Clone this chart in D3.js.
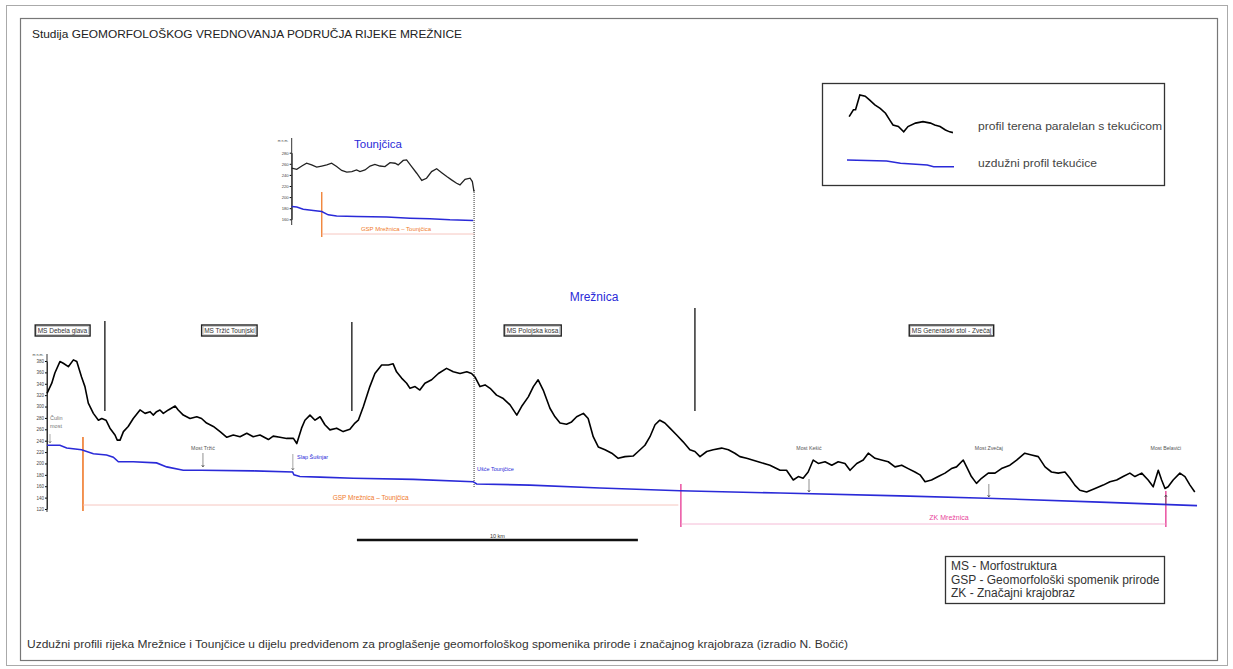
<!DOCTYPE html>
<html>
<head>
<meta charset="utf-8">
<script src="https://cdn.jsdelivr.net/npm/d3@7"></script>
<style>
  body { margin: 0; background: #fff; }
  text { font-family: "Liberation Sans", Arial, sans-serif; }
</style>
</head>
<body>
<svg id="chart" width="1233" height="669"></svg>
<script>
// Mreznica: distance along the river (km) and elevation (m n.m.)
const terrainKm = [0.00,0.17,0.28,0.46,0.58,0.76,0.94,1.06,1.23,1.35,1.47,1.65,1.83,1.95,2.10,2.24,2.42,2.50,2.60,2.72,
  2.89,3.07,3.31,3.49,3.67,3.78,3.90,4.02,4.14,4.32,4.56,4.67,4.85,5.09,5.33,5.50,5.68,5.92,6.16,6.40,
  6.63,6.87,7.11,7.34,7.58,7.88,8.05,8.29,8.53,8.77,8.89,9.06,9.18,9.36,9.54,9.72,9.89,10.07,10.31,10.54,
  10.78,10.96,11.08,11.26,11.49,11.67,11.91,12.15,12.32,12.44,12.62,12.80,12.92,13.10,13.27,13.45,13.69,13.93,14.22,14.46,
  14.70,14.94,15.11,15.23,15.41,15.59,15.77,16.00,16.24,16.48,16.72,16.89,17.13,17.31,17.48,17.66,17.90,18.08,18.26,18.49,
  18.67,18.85,19.09,19.26,19.44,19.62,19.86,20.10,20.33,20.57,20.86,21.04,21.28,21.46,21.64,21.81,21.99,22.17,22.41,22.64,
  22.88,23.06,23.24,23.48,23.71,24.01,24.25,24.48,24.66,24.90,25.37,25.73,26.09,26.32,26.56,26.74,26.91,27.09,27.27,27.45,
  27.69,27.93,28.16,28.40,28.58,28.82,29.05,29.23,29.47,29.70,29.94,30.18,30.42,30.65,30.89,31.07,31.25,31.48,31.72,31.96,
  32.19,32.37,32.61,32.73,32.90,33.08,33.26,33.50,33.74,33.97,34.27,34.51,34.80,35.04,35.28,35.52,35.75,35.99,36.23,36.41,
  36.58,36.76,37.00,37.30,37.59,37.83,38.07,38.30,38.54,38.72,38.96,39.19,39.37,39.55,39.67,39.79,39.90,40.08,40.32,40.50,
  40.68,40.85];
const terrainM = [323,341,359,379,376,370,382,379,352,335,306,288,276,279,276,262,250,241,241,256,
  265,279,294,288,291,285,291,294,288,294,301,294,285,279,282,279,271,265,256,246,
  250,247,253,247,250,242,248,246,244,244,235,262,276,285,276,282,268,259,262,256,
  260,271,276,300,335,358,373,373,375,361,350,341,332,335,329,341,347,358,367,361,
  358,361,358,352,335,338,332,320,314,303,285,300,317,335,347,329,297,282,271,269,
  273,282,288,279,247,229,224,218,209,212,213,221,232,247,268,276,271,262,250,238,
  224,221,212,221,224,227,224,218,212,209,202,197,188,188,171,177,174,185,206,200,
  203,197,203,200,188,200,206,218,209,206,203,194,197,191,185,180,168,171,177,183,
  191,194,206,194,177,165,174,183,183,191,197,206,218,215,212,194,185,183,185,174,
  162,153,150,156,162,168,171,177,183,177,183,171,159,188,171,156,159,171,183,177,
  162,150];
const riverKm = [0.00,0.46,0.70,1.23,1.65,2.12,2.36,2.54,3.07,3.90,4.26,4.85,5.50,7.34,8.74,8.79,9.00,9.72,10.90,13.04,
  15.17,15.29,17.19,19.68,22.53,26.09,30.36,33.44,37.47,40.93];
const riverM = [232,232,227,224,217,215,211,203,203,201,194,188,188,187,185,180,177,176,174,172,
  168,164,162,157,152,148,143,139,132,126];

// Tounjcica (inset), km upstream section to the mouth
const tounjTerrainKm = [0.00,0.18,0.36,0.53,0.71,0.89,1.07,1.25,1.42,1.60,1.78,1.96,2.14,2.31,2.43,2.61,2.79,2.96,3.14,3.32,
  3.50,3.68,3.79,3.97,4.09,4.27,4.45,4.63,4.80,4.98,5.16,5.34,5.52,5.69,5.87,5.99,6.17,6.35,6.43,6.49];
const tounjTerrainM = [252,250,256,261,258,254,256,258,261,255,248,245,246,249,246,249,256,259,256,255,
  262,261,258,266,267,255,243,230,234,246,251,244,237,231,225,222,232,234,228,210];
const tounjRiverKm = [0.00,0.18,0.41,0.77,1.07,1.30,1.60,2.31,3.38,4.21,4.92,5.63,6.46];
const tounjRiverM = [183,182,178,176,174,168,166,165,164,162,161,159,158];

const elevTicks = [120,140,160,180,200,220,240,260,280,300,320,340,360,380];
const insetTicks = [160,180,200,220,240,260,280];

const msNames = ['MS Debela glava','MS Tržić Tounjski','MS Polojska kosa','MS Generalski stol - Zvečaj'];
const msLabelKm = [0.55, 6.49, 17.28, 32.19];
const msBoundKm = [2.06, 10.85, 23.06];

const pointNames = ['Most Tržić','Most Kešić','Most Zvečaj','Most Belavići'];
const pointKm = [5.55, 27.12, 33.52, 39.82];

const gspKm = [1.28, 22.47];
const zkKm = [22.56, 39.82];
const confluenceKm = 15.2;
const tounjGspKm = 1.07;

// legend samples (relative 0..1)
const legendTerrainT = [0.02,0.06,0.08,0.12,0.17,0.21,0.26,0.31,0.36,0.40,0.43,0.48,0.53,0.57,0.64,0.71,0.78,0.82,0.87,0.92,0.96,0.99];
const legendTerrainV = [0.43,0.61,0.61,1.00,0.97,0.87,0.74,0.65,0.52,0.34,0.21,0.17,0.03,0.17,0.26,0.30,0.26,0.21,0.17,0.08,0.03,0.01];
const legendRiverT = [0,0.37,0.50,0.75,0.81,1];
const legendRiverV = [1,0.86,0.53,0.29,0.05,0.05];

const BLUE = '#2a2ad8', ORANGE = '#f07a2a', PINK = '#e8449a', GRAY = '#555';

const svg = d3.select('#chart');
svg.append('rect').attr('width', 1233).attr('height', 669).attr('fill', '#fff');

// frames
svg.append('rect').attr('x', 6.5).attr('y', 5.5).attr('width', 1221).attr('height', 660)
  .attr('fill', 'none').attr('stroke', '#aaa').attr('stroke-width', 1);
svg.append('rect').attr('x', 20.5).attr('y', 18.5).attr('width', 1197).attr('height', 642)
  .attr('fill', 'none').attr('stroke', '#777').attr('stroke-width', 1.2);

svg.append('text').attr('x', 32).attr('y', 38).attr('font-size', 11).attr('fill', '#222')
  .attr('textLength', 430).attr('lengthAdjust', 'spacingAndGlyphs')
  .text('Studija GEOMORFOLOŠKOG VREDNOVANJA PODRUČJA RIJEKE MREŽNICE');

svg.append('text').attr('x', 27).attr('y', 648).attr('font-size', 11).attr('fill', '#333')
  .attr('textLength', 821).attr('lengthAdjust', 'spacingAndGlyphs')
  .text('Uzdužni profili rijeka Mrežnice i Tounjčice u dijelu predviđenom za proglašenje geomorfološkog spomenika prirode i značajnog krajobraza (izradio N. Bočić)');

// ---- main profile ----
const x = d3.scaleLinear().domain([0, 41]).range([47, 1199]);
const y = d3.scaleLinear().domain([120, 380]).range([509, 361]);

const yAxis = svg.append('g').attr('transform', 'translate(47,0)')
  .call(d3.axisLeft(y).tickValues(elevTicks).tickSize(2).tickSizeOuter(0).tickPadding(1));
yAxis.selectAll('text').attr('font-size', 4.5).attr('fill', '#444');
yAxis.select('.domain').attr('stroke', '#333');
svg.append('line').attr('x1', 47).attr('x2', 47).attr('y1', 354).attr('y2', 512).attr('stroke', '#333');
svg.append('text').attr('x', 38).attr('y', 356).attr('font-size', 3.6).attr('fill', '#444')
  .attr('text-anchor', 'middle').text('m n.m.');

const terrain = terrainKm.map((k, i) => [k, terrainM[i]]);
const river = riverKm.map((k, i) => [k, riverM[i]]);
const line = d3.line().x(d => x(d[0])).y(d => y(d[1]));

// MS boundaries
const msTop = [321, 322, 308];
msBoundKm.forEach((k, i) => {
  svg.append('line').attr('x1', x(k)).attr('x2', x(k)).attr('y1', msTop[i]).attr('y2', 411)
    .attr('stroke', '#111').attr('stroke-width', 1.3);
});

// MS labels
msNames.forEach((n, i) => {
  const t = svg.append('text').attr('x', x(msLabelKm[i])).attr('y', 333).attr('font-size', 6.5)
    .attr('text-anchor', 'middle').attr('fill', '#333').text(n);
  const b = t.node().getBBox();
  svg.insert('rect', 'text').attr('x', b.x - 2.5).attr('y', 325).attr('width', b.width + 5).attr('height', 11)
    .attr('fill', '#fff').attr('stroke', '#222').attr('stroke-width', 1.4);
  svg.append('rect').attr('x', b.x - 1).attr('y', 326.5).attr('width', b.width + 2).attr('height', 8)
    .attr('fill', 'none').attr('stroke', '#999').attr('stroke-width', 0.5);
});

svg.append('text').attr('x', 594).attr('y', 301).attr('font-size', 12).attr('fill', BLUE)
  .attr('text-anchor', 'middle').text('Mrežnica');

// GSP main
svg.append('line').attr('x1', x(gspKm[0])).attr('x2', x(gspKm[0])).attr('y1', 437).attr('y2', 511)
  .attr('stroke', ORANGE).attr('stroke-width', 1.6);
svg.append('line').attr('x1', x(gspKm[0])).attr('x2', x(gspKm[1])).attr('y1', 505).attr('y2', 505)
  .attr('stroke', '#f4b8b0').attr('stroke-width', 0.8);
svg.append('text').attr('x', x((gspKm[0] + gspKm[1]) / 2) - 10).attr('y', 500).attr('font-size', 6.5)
  .attr('fill', ORANGE).attr('text-anchor', 'middle').text('GSP Mrežnica – Tounjčica');

// ZK
zkKm.forEach((k, i) => {
  svg.append('line').attr('x1', x(k)).attr('x2', x(k)).attr('y1', i ? 491 : 484).attr('y2', 527)
    .attr('stroke', PINK).attr('stroke-width', 1.4);
});
svg.append('line').attr('x1', x(zkKm[0])).attr('x2', x(zkKm[1])).attr('y1', 524).attr('y2', 524)
  .attr('stroke', '#f2a8cc').attr('stroke-width', 0.8);
svg.append('text').attr('x', 949).attr('y', 520).attr('font-size', 7).attr('fill', PINK)
  .attr('text-anchor', 'middle').text('ZK Mrežnica');

// confluence dotted line
svg.append('line').attr('x1', x(confluenceKm)).attr('x2', x(confluenceKm)).attr('y1', 190).attr('y2', 487)
  .attr('stroke', '#555').attr('stroke-width', 1.2).attr('stroke-dasharray', '1,1');

svg.append('path').attr('d', line(river)).attr('fill', 'none').attr('stroke', BLUE).attr('stroke-width', 1.6);
svg.append('path').attr('d', line(terrain)).attr('fill', 'none').attr('stroke', '#000')
  .attr('stroke-width', 1.6).attr('stroke-linejoin', 'round');

// point labels with arrows
function arrow(px, y1, y2, col) {
  svg.append('line').attr('x1', px).attr('x2', px).attr('y1', y1).attr('y2', y2)
    .attr('stroke', col).attr('stroke-width', 0.6);
  const d = y2 > y1 ? -2 : 2;
  svg.append('path').attr('d', `M${px - 1.3},${y2 + d}L${px},${y2}L${px + 1.3},${y2 + d}`)
    .attr('fill', 'none').attr('stroke', col).attr('stroke-width', 0.7);
}
const pointLabelY = [450, 450, 450, 450];
pointNames.forEach((n, i) => {
  const px = x(pointKm[i]);
  svg.append('text').attr('x', px).attr('y', pointLabelY[i]).attr('font-size', 5.2).attr('fill', GRAY)
    .attr('text-anchor', 'middle').text(n);
});
arrow(x(pointKm[0]), 453, 467, '#444');
arrow(x(pointKm[1]), 479, 492, '#444');
arrow(x(pointKm[2]), 484, 497, '#444');
arrow(x(pointKm[3]), 505, 495, '#444');

svg.append('text').attr('x', 50).attr('y', 420).attr('font-size', 5.5).attr('fill', '#777').text('Čulin');
svg.append('text').attr('x', 50).attr('y', 428).attr('font-size', 5.5).attr('fill', '#777').text('most');
arrow(50, 434, 443, '#777');

svg.append('text').attr('x', 297).attr('y', 459).attr('font-size', 5.5).attr('fill', BLUE).text('Slap Šušnjar');
arrow(x(8.75), 454, 470, '#666');
svg.append('text').attr('x', 477).attr('y', 471).attr('font-size', 5.5).attr('fill', BLUE).text('Ušće Tounjčice');

// scale bar
svg.append('line').attr('x1', x(11.03)).attr('x2', x(21.03)).attr('y1', 540).attr('y2', 540)
  .attr('stroke', '#111').attr('stroke-width', 2.4);
svg.append('text').attr('x', x(16.03)).attr('y', 538).attr('font-size', 5.5).attr('fill', '#333')
  .attr('text-anchor', 'middle').text('10 km');

// ---- Tounjcica inset ----
const xi = d3.scaleLinear().domain([0, 6.5]).range([291.7, 474.3]);
const yi = d3.scaleLinear().domain([160, 280]).range([219.3, 152.7]);
const iAxis = svg.append('g').attr('transform', 'translate(291.7,0)')
  .call(d3.axisLeft(yi).tickValues(insetTicks).tickSize(2).tickSizeOuter(0).tickPadding(1));
iAxis.selectAll('text').attr('font-size', 4.2).attr('fill', '#444');
iAxis.select('.domain').attr('stroke', '#333');
svg.append('line').attr('x1', 291.7).attr('x2', 291.7).attr('y1', 138).attr('y2', 225).attr('stroke', '#333');
svg.append('text').attr('x', 283).attr('y', 142).attr('font-size', 3.4).attr('fill', '#444')
  .attr('text-anchor', 'middle').text('m n.m.');
const lineI = d3.line().x(d => xi(d[0])).y(d => yi(d[1]));
svg.append('line').attr('x1', xi(tounjGspKm)).attr('x2', xi(tounjGspKm)).attr('y1', 192).attr('y2', 237)
  .attr('stroke', ORANGE).attr('stroke-width', 1.3);
svg.append('line').attr('x1', xi(tounjGspKm)).attr('x2', xi(6.5)).attr('y1', 234).attr('y2', 234)
  .attr('stroke', '#f4b8b0').attr('stroke-width', 0.8);
svg.append('text').attr('x', 396).attr('y', 231).attr('font-size', 6).attr('fill', ORANGE)
  .attr('text-anchor', 'middle').text('GSP Mrežnica – Tounjčica');
svg.append('path').attr('d', lineI(tounjRiverKm.map((k, i) => [k, tounjRiverM[i]])))
  .attr('fill', 'none').attr('stroke', BLUE).attr('stroke-width', 1.5);
svg.append('path').attr('d', lineI(tounjTerrainKm.map((k, i) => [k, tounjTerrainM[i]])))
  .attr('fill', 'none').attr('stroke', '#222').attr('stroke-width', 1.3);
svg.append('text').attr('x', 378).attr('y', 148).attr('font-size', 11.5).attr('fill', BLUE)
  .attr('text-anchor', 'middle').text('Tounjčica');

// ---- legend ----
svg.append('rect').attr('x', 822.5).attr('y', 83.5).attr('width', 342).attr('height', 102)
  .attr('fill', '#fff').attr('stroke', '#333').attr('stroke-width', 1.3);
const lx = d3.scaleLinear().domain([0, 1]).range([847, 954]);
const lyT = d3.scaleLinear().domain([0, 1]).range([133, 95]);
const lyR = d3.scaleLinear().domain([0, 1]).range([167, 160]);
svg.append('path').attr('d', d3.line().x(d => lx(d[0])).y(d => lyT(d[1]))(legendTerrainT.map((t, i) => [t, legendTerrainV[i]])))
  .attr('fill', 'none').attr('stroke', '#000').attr('stroke-width', 1.6);
svg.append('path').attr('d', d3.line().x(d => lx(d[0])).y(d => lyR(d[1]))(legendRiverT.map((t, i) => [t, legendRiverV[i]])))
  .attr('fill', 'none').attr('stroke', BLUE).attr('stroke-width', 1.5);
svg.append('text').attr('x', 978).attr('y', 130).attr('font-size', 10.5).attr('fill', '#444')
  .attr('textLength', 184).attr('lengthAdjust', 'spacingAndGlyphs').text('profil terena paralelan s tekućicom');
svg.append('text').attr('x', 978).attr('y', 167).attr('font-size', 10.5).attr('fill', '#444')
  .attr('textLength', 119).attr('lengthAdjust', 'spacingAndGlyphs').text('uzdužni profil tekućice');

// abbreviations box
svg.append('rect').attr('x', 945.5).attr('y', 556.5).attr('width', 219).attr('height', 47)
  .attr('fill', '#fff').attr('stroke', '#333').attr('stroke-width', 1.3);
const abbr = ['MS - Morfostruktura', 'GSP - Geomorfološki spomenik prirode', 'ZK - Značajni krajobraz'];
abbr.forEach((t, i) => {
  svg.append('text').attr('x', 951).attr('y', 570 + i * 13.5).attr('font-size', 12).attr('fill', '#333').text(t);
});
</script>
</body>
</html>
